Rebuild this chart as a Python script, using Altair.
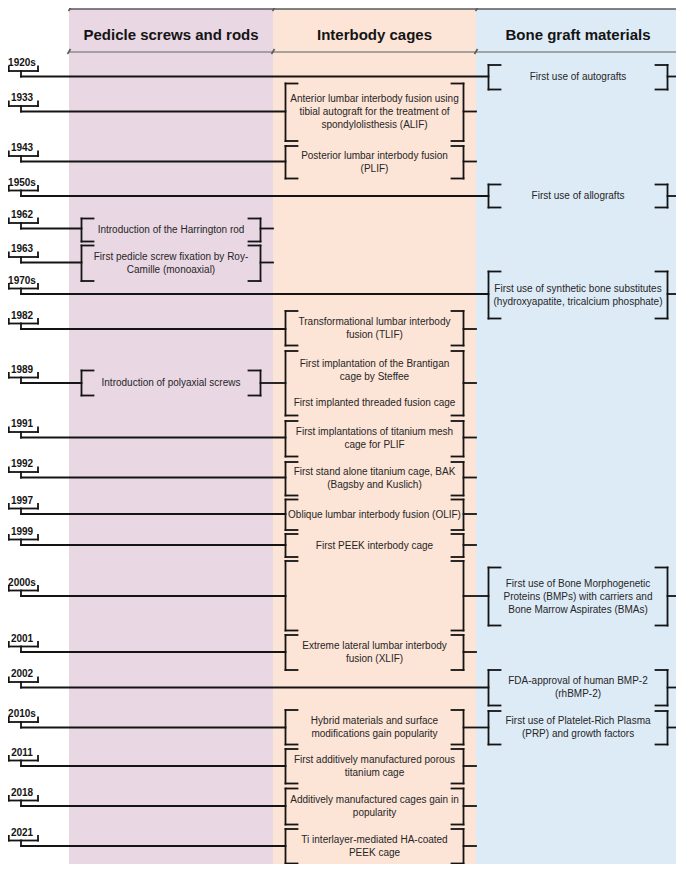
import altair as alt
import pandas as pd

# ---------------- data ----------------
column_names = ["Pedicle screws and rods", "Interbody cages", "Bone graft materials"]
column_colors = ["#e9d7e3", "#fce4d6", "#ddebf7"]
column_edges = [69, 273, 476, 680]

years = ["1920s", "1933", "1943", "1950s", "1962", "1963", "1970s", "1982", "1989", "1991",
         "1992", "1997", "1999", "2000s", "2001", "2002", "2010s", "2011", "2018", "2021"]
year_rows = [76.5, 111.5, 161.5, 196, 228.5, 262.5, 294, 329, 383, 437.5,
             477.5, 514, 545, 596, 652, 687.5, 727.5, 766, 806, 846]

event_year = ["1920s", "1933", "1943", "1950s", "1962", "1963", "1970s", "1982", "1989", "1989",
              "1991", "1992", "1997", "1999", "2000s", "2000s", "2001", "2002", "2010s", "2010s",
              "2011", "2018", "2021"]
event_column = [2, 1, 1, 2, 0, 0, 2, 1, 0, 1,
                1, 1, 1, 1, 1, 2, 1, 2, 1, 2,
                1, 1, 1]
event_top = [65, 83.5, 146, 184.5, 218.5, 245.5, 271.5, 311, 370.5, 351,
             421, 462, 499.5, 534, 561, 567.5, 635, 670, 710, 711,
             749, 788.5, 829]
event_bottom = [89.5, 141, 178.5, 207.5, 241.5, 281, 318.5, 345.5, 395.5, 415.5,
                456.5, 495.5, 530, 557, 630.5, 625.5, 670, 705.5, 744.5, 744.5,
                783.5, 824.5, 863.5]
event_text = [
    ["First use of autografts"],
    ["Anterior lumbar interbody fusion using", "tibial autograft for the treatment of",
     "spondylolisthesis (ALIF)"],
    ["Posterior lumbar interbody fusion", "(PLIF)"],
    ["First use of allografts"],
    ["Introduction of the Harrington rod"],
    ["First pedicle screw fixation by Roy-", "Camille (monoaxial)"],
    ["First use of synthetic bone substitutes", "(hydroxyapatite, tricalcium phosphate)"],
    ["Transformational lumbar interbody", "fusion (TLIF)"],
    ["Introduction of polyaxial screws"],
    ["First implantation of the Brantigan", "cage by Steffee", "",
     "First implanted threaded fusion cage"],
    ["First implantations of titanium mesh", "cage for PLIF"],
    ["First stand alone titanium cage, BAK", "(Bagsby and Kuslich)"],
    ["Oblique lumbar interbody fusion (OLIF)"],
    ["First PEEK interbody cage"],
    [],
    ["First use of Bone Morphogenetic", "Proteins (BMPs) with carriers and",
     "Bone Marrow Aspirates (BMAs)"],
    ["Extreme lateral lumbar interbody", "fusion (XLIF)"],
    ["FDA-approval of human BMP-2", "(rhBMP-2)"],
    ["Hybrid materials and surface", "modifications gain popularity"],
    ["First use of Platelet-Rich Plasma", "(PRP) and growth factors"],
    ["First additively manufactured porous", "titanium cage"],
    ["Additively manufactured cages gain in", "popularity"],
    ["Ti interlayer-mediated HA-coated", "PEEK cage"],
]

# ---------------- derived geometry ----------------
INSET = 12.5
TICK = 12
LINE_H = 13
STEM_X = 21

def bracket_lr(c):
    return column_edges[c] + INSET, column_edges[c + 1] - INSET

segs = []
def seg(x1, y1, x2, y2):
    segs.append({"x": x1, "y": y1, "x2": x2, "y2": y2})

texts = []
for c, top, bot, lines in zip(event_column, event_top, event_bottom, event_text):
    L, R = bracket_lr(c)
    seg(L, top, L, bot); seg(L, top, L + TICK, top); seg(L, bot, L + TICK, bot)
    seg(R, top, R, bot); seg(R - TICK, top, R, top); seg(R - TICK, bot, R, bot)
    cy = (top + bot) / 2
    cx = (L + R) / 2
    n = len(lines)
    for i, t in enumerate(lines):
        if t:
            texts.append({"x": cx, "y": cy + (i - (n - 1) / 2) * LINE_H, "t": t})

year_labels = []
for yr, y in zip(years, year_rows):
    cols = sorted(c for e, c in zip(event_year, event_column) if e == yr)
    x_start = STEM_X
    for c in cols:
        L, R = bracket_lr(c)
        seg(x_start, y, L, y)
        x_start = R
    seg(x_start, y, column_edges[cols[-1] + 1], y)
    by = y - 5.5
    seg(STEM_X, by, STEM_X, y)
    seg(8.8, by, 38, by)
    seg(8.8, by - 4.5, 8.8, by)
    seg(38, by - 4.5, 38, by)
    year_labels.append({"x": 22, "y": y - 13.5, "t": yr})

bg = pd.DataFrame({
    "x": column_edges[:-1], "x2": column_edges[1:],
    "y": [9] * 3, "y2": [868] * 3, "color": column_colors,
})
headers = pd.DataFrame({
    "x": [(a + b) / 2 for a, b in zip(column_edges[:-1], column_edges[1:])],
    "y": [35] * 3, "t": column_names,
})
head_lines = pd.DataFrame([
    {"x": column_edges[0], "x2": column_edges[-1], "y": 9, "y2": 9, "c": "#595959"},
    {"x": column_edges[0], "x2": column_edges[-1], "y": 52, "y2": 52, "c": "#8c8c8c"},
] + [
    {"x": e - 1.5, "x2": e + 1.5, "y": 54, "y2": 49, "c": "#595959"} for e in column_edges
] + [
    {"x": e - 0.5, "x2": e + 1.5, "y": 11, "y2": 8, "c": "#595959"} for e in column_edges
])

# ---------------- chart ----------------
W, H = 668, 856
xs = alt.Scale(domain=[8, 8 + W], nice=False, zero=False)
ys = alt.Scale(domain=[8, 8 + H], nice=False, zero=False, reverse=True)
X = alt.X("x:Q", scale=xs, axis=None)
Y = alt.Y("y:Q", scale=ys, axis=None)

bg_layer = alt.Chart(bg).mark_rect().encode(
    x=X, x2="x2:Q", y=Y, y2="y2:Q", color=alt.Color("color:N", scale=None))

head_line_layer = alt.Chart(head_lines).mark_rule(strokeWidth=1.6).encode(
    x=X, x2="x2:Q", y=Y, y2="y2:Q", color=alt.Color("c:N", scale=None))

seg_layer = alt.Chart(pd.DataFrame(segs)).mark_rule(
    strokeWidth=1.8, color="#141414", strokeCap="square").encode(
    x=X, x2="x2:Q", y=Y, y2="y2:Q")

text_layer = alt.Chart(pd.DataFrame(texts)).mark_text(
    font="Liberation Sans", fontSize=10, color="#262626", baseline="middle", align="center"
).encode(x=X, y=Y, text="t:N")

header_layer = alt.Chart(headers).mark_text(
    font="Liberation Sans", fontSize=15, fontWeight="bold", color="#141414",
    baseline="middle", align="center"
).encode(x=X, y=Y, text="t:N")

year_layer = alt.Chart(pd.DataFrame(year_labels)).mark_text(
    font="Liberation Sans", fontSize=10, fontWeight="bold", color="#141414",
    baseline="middle", align="center"
).encode(x=X, y=Y, text="t:N")

chart = alt.layer(
    bg_layer, head_line_layer, seg_layer, text_layer, header_layer, year_layer
).properties(
    width=W, height=H, padding=0,
    autosize=alt.AutoSizeParams(type="none"),
    background="white",
).configure_view(stroke=None)

chart.save("out.html", embed_options={"renderer": "svg", "actions": False})
